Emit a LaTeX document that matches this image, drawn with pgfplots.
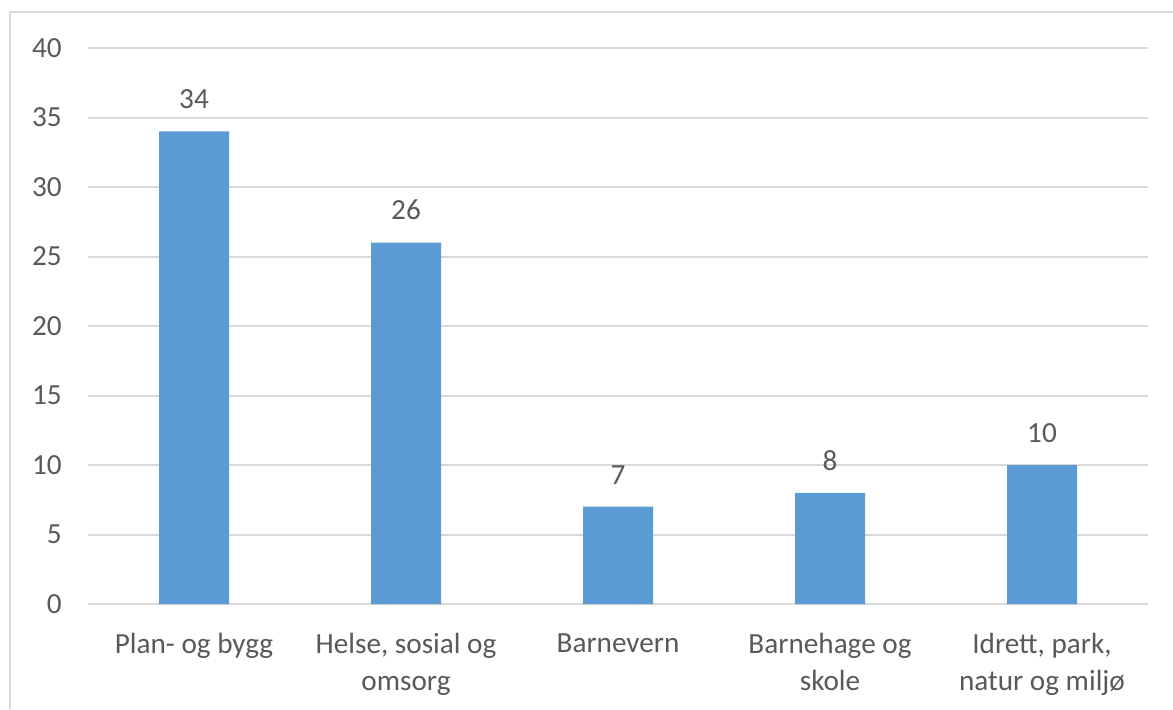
\documentclass[border=0pt]{standalone}
\usepackage{pgfplots}
\pgfplotsset{compat=1.18}
\usepackage{fontspec}
\setmainfont{Carlito}
\definecolor{barblue}{HTML}{5B9BD5}
\definecolor{txtgray}{HTML}{595959}
\definecolor{gridgray}{HTML}{D9D9D9}
\begin{document}
\begin{tikzpicture}[x=0.5pt,y=0.5pt]
  % picture frame, 1173 x 709 px
  \useasboundingbox (0,0) rectangle (1173,709);
  \draw[gridgray, line width=1pt] (10,0) -- (10,697) -- (1173,697);
  \begin{axis}[
      at={(44pt,52.5pt)}, anchor=south west,
      scale only axis,
      width=530pt, height=278pt,
      ybar, bar width=35pt,
      xmin=-0.5, xmax=4.5,
      ymin=0, ymax=40,
      ytick={0,5,...,40},
      xtick={0,1,2,3,4},
      xticklabels={Plan- og bygg, {Helse, sosial og\\omsorg}, Barnevern,
                   {Barnehage og\\skole}, {Idrett, park,\\natur og miljø}},
      axis line style={draw=none},
      major tick length=0pt,
      ymajorgrids, grid style={gridgray, line width=1pt},
      font=\fontsize{14.6}{18.5}\selectfont,
      tick label style={txtgray},
      /pgf/number format/assume math mode=true,
      yticklabel style={inner sep=0pt, xshift=-13pt},
      xticklabel style={align=center, inner sep=0pt, yshift=-14.5pt},
      nodes near coords,
      every node near coord/.append style={txtgray, inner sep=0pt, yshift=11pt},
    ]
    \addplot[fill=barblue, draw=none] coordinates {(0,34) (1,26) (2,7) (3,8) (4,10)};
  \end{axis}
\end{tikzpicture}
\end{document}
